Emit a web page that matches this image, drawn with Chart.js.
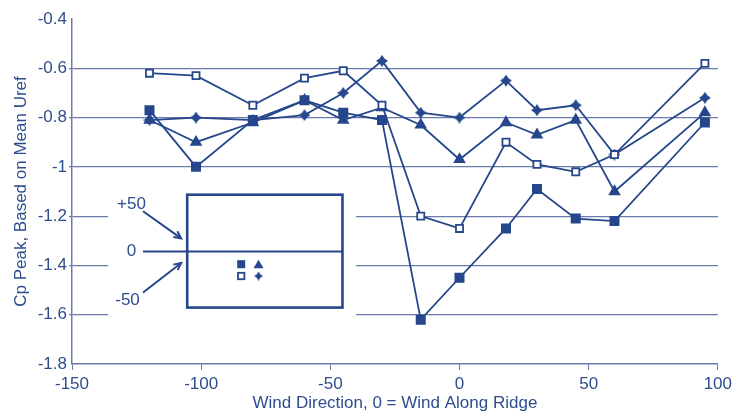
<!DOCTYPE html>
<html>
<head>
    <meta charset="utf-8" />
    <title>Cp Peak vs Wind Direction</title>
    <style>
        body { margin: 0; background: #fff; }
        #wrap { width: 736px; height: 412px; }
    </style>
    <script src="https://cdn.jsdelivr.net/npm/chart.js"></script>
</head>
<body>
    <div id="wrap"><canvas id="chart" width="736" height="412"></canvas></div>
    <script>
        const windDir = [-120, -102, -80, -60, -45, -30, -15, 0, 18, 30, 45, 60, 95];
        const filledSquare = [-0.77, -1.0, -0.81, -0.73, -0.78, -0.81, -1.62, -1.45, -1.25, -1.09, -1.21, -1.22, -0.82];
        const filledTriangle = [-0.81, -0.9, -0.82, -0.73, -0.81, -0.76, -0.83, -0.97, -0.82, -0.87, -0.81, -1.1, -0.78];
        const openSquare = [-0.62, -0.63, -0.75, -0.64, -0.61, -0.75, -1.2, -1.25, -0.9, -0.99, -1.02, -0.95, -0.58];
        const plusStar = [-0.81, -0.8, -0.81, -0.79, -0.7, -0.57, -0.78, -0.8, -0.65, -0.77, -0.75, -0.95, -0.72];
        const yTicks = [-0.4, -0.6, -0.8, -1, -1.2, -1.4, -1.6, -1.8];

        const navy = '#26478c';
        const textBlue = '#2e4d8e';
        const gridBlue = '#6a7aab';
        const font = 'Liberation Sans';

        // small 4-point star marker
        function starCanvas(s) {
            const c = document.createElement('canvas');
            c.width = s; c.height = s;
            const g = c.getContext('2d');
            const m = s / 2, k = s * 0.2;
            g.fillStyle = navy;
            g.beginPath();
            g.moveTo(m, 0); g.lineTo(m + k, m - k); g.lineTo(s, m); g.lineTo(m + k, m + k);
            g.lineTo(m, s); g.lineTo(m - k, m + k); g.lineTo(0, m); g.lineTo(m - k, m - k);
            g.closePath(); g.fill();
            return c;
        }
        const star = starCanvas(12);

        const pts = arr => windDir.map((x, i) => ({ x, y: arr[i] }));

        function series(arr, style, fill, radius) {
            return {
                data: pts(arr),
                borderColor: navy,
                borderWidth: 1.8,
                pointStyle: style,
                pointRadius: radius,
                pointBackgroundColor: fill,
                pointBorderColor: navy,
                pointBorderWidth: 1.8,
                tension: 0
            };
        }

        const insetPlugin = {
            id: 'inset',
            afterDraw(chart) {
                const ctx = chart.ctx;
                const xs = chart.scales.x, ys = chart.scales.y;
                const X = v => xs.getPixelForValue(v), Y = v => ys.getPixelForValue(v);
                ctx.save();
                // white patch hiding the grid
                ctx.fillStyle = '#fff';
                ctx.fillRect(X(-136), Y(-1.09), X(-40) - X(-136), Y(-1.63) - Y(-1.09));
                ctx.strokeStyle = navy;
                ctx.fillStyle = textBlue;
                // box
                const l = X(-105.4), r = X(-45.3), t = Y(-1.113), b = Y(-1.571), mid = Y(-1.343);
                ctx.lineWidth = 2.6;
                ctx.strokeRect(l, t, r - l, b - t);
                ctx.lineWidth = 2;
                ctx.beginPath(); ctx.moveTo(l, mid); ctx.lineTo(r, mid); ctx.stroke();
                // zero line
                ctx.beginPath(); ctx.moveTo(X(-122.5), mid); ctx.lineTo(l - 1, mid); ctx.stroke();
                // arrows
                function arrow(x1, y1, x2, y2) {
                    ctx.beginPath(); ctx.moveTo(x1, y1); ctx.lineTo(x2, y2); ctx.stroke();
                    const a = Math.atan2(y2 - y1, x2 - x1), h = 8;
                    ctx.beginPath();
                    ctx.moveTo(x2 - h * Math.cos(a - 0.45), y2 - h * Math.sin(a - 0.45));
                    ctx.lineTo(x2, y2);
                    ctx.lineTo(x2 - h * Math.cos(a + 0.45), y2 - h * Math.sin(a + 0.45));
                    ctx.stroke();
                }
                arrow(X(-122.5), Y(-1.18), l - 6, Y(-1.29));
                arrow(X(-122.5), Y(-1.51), l - 6, Y(-1.39));
                ctx.font = '17px "' + font + '"';
                ctx.textAlign = 'center';
                ctx.textBaseline = 'middle';
                ctx.fillText('+50', X(-127), Y(-1.15));
                ctx.fillText('0', X(-127), mid);
                ctx.fillText('-50', X(-128.5), Y(-1.54));
                // mini legend
                const lx1 = X(-84.5), lx2 = X(-77.8), ly1 = Y(-1.395), ly2 = Y(-1.443);
                ctx.fillStyle = navy;
                ctx.fillRect(lx1 - 4, ly1 - 4, 8, 8);
                ctx.beginPath();
                ctx.moveTo(lx2, ly1 - 4.5); ctx.lineTo(lx2 + 5, ly1 + 4); ctx.lineTo(lx2 - 5, ly1 + 4);
                ctx.closePath(); ctx.fill();
                ctx.lineWidth = 1.8;
                ctx.strokeRect(lx1 - 3.2, ly2 - 3.2, 6.4, 6.4);
                ctx.drawImage(starCanvas(9), lx2 - 4.5, ly2 - 4.5);
                ctx.restore();
            }
        };

        new Chart(document.getElementById('chart'), {
            type: 'line',
            data: {
                datasets: [
                    series(openSquare, 'rect', '#fff', 5),
                    series(plusStar, star, navy, 5),
                    series(filledTriangle, 'triangle', navy, 5.5),
                    series(filledSquare, 'rect', navy, 5.8)
                ]
            },
            options: {
                responsive: false,
                animation: false,
                layout: { padding: { top: 19, right: 16, left: 0, bottom: 0 } },
                plugins: { legend: { display: false }, tooltip: { enabled: false } },
                scales: {
                    x: {
                        type: 'linear',
                        min: -150, max: 100,
                        afterFit: s => { s.height = 48; },
                        ticks: { stepSize: 50, color: textBlue, font: { family: font, size: 17 }, padding: 4 },
                        grid: { drawOnChartArea: false, drawTicks: true, tickLength: 6, color: gridBlue },
                        border: { color: gridBlue, width: 1.5 },
                        title: {
                            display: true, text: 'Wind Direction, 0 = Wind Along Ridge',
                            color: textBlue, font: { family: font, size: 17, lineHeight: 1 },
                            padding: { top: 0, bottom: 0 }
                        }
                    },
                    y: {
                        min: -1.8, max: -0.4,
                        afterFit: s => { s.width = 72; },
                        afterBuildTicks: s => { s.ticks = yTicks.map(v => ({ value: v })); },
                        ticks: {
                            color: textBlue, font: { family: font, size: 17 }, padding: 2,
                            callback: v => String(v)
                        },
                        grid: {
                            tickLength: 3,
                            color: c => (c.tick && (c.tick.value === -0.4 || c.tick.value === -1.8)) ? 'rgba(0,0,0,0)' : gridBlue,
                            lineWidth: 1.2
                        },
                        border: { color: gridBlue, width: 1.5 },
                        title: {
                            display: true, text: 'Cp Peak, Based on Mean Uref',
                            color: textBlue, font: { family: font, size: 17, lineHeight: 1 },
                            padding: { top: 13, bottom: 0 }
                        }
                    }
                }
            },
            plugins: [insetPlugin]
        });
    </script>
</body>
</html>
